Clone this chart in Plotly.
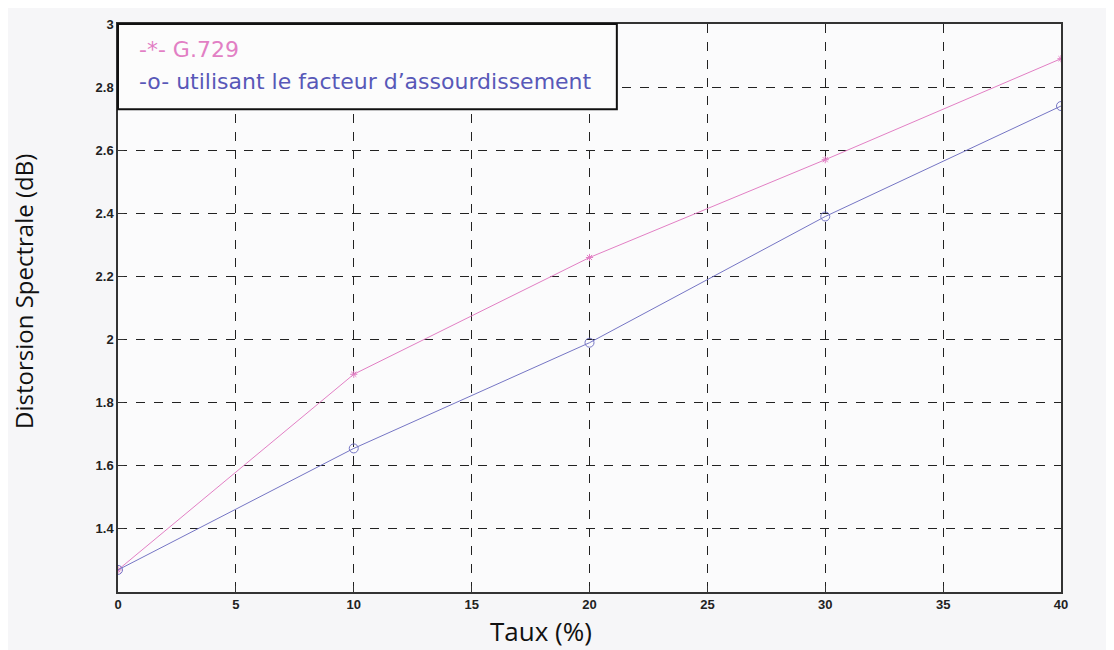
import plotly.graph_objects as go

taux = [0, 10, 20, 30, 40]
g729 = [1.27, 1.89, 2.26, 2.57, 2.89]
assourd = [1.27, 1.655, 1.99, 2.39, 2.74]

x_ticks = [0, 5, 10, 15, 20, 25, 30, 35, 40]
y_ticks = [1.4, 1.6, 1.8, 2, 2.2, 2.4, 2.6, 2.8, 3]
y_tick_labels = ["1.4", "1.6", "1.8", "2", "2.2", "2.4", "2.6", "2.8", "3"]

legend_g729 = "-*- G.729"
legend_assourd = "-o- utilisant le facteur d\u2019assourdissement"
x_title = "Taux (%)"
y_title = "Distorsion Spectrale (dB)"

pink = "#e27fc4"
blue = "#7575c4"

fig = go.Figure()
fig.add_trace(go.Scatter(
    x=taux, y=g729, mode="lines+markers", name=legend_g729,
    line=dict(color=pink, width=1),
    marker=dict(symbol="asterisk-open", size=6, color=pink, line=dict(color=pink, width=1)),
))
fig.add_trace(go.Scatter(
    x=taux, y=assourd, mode="lines+markers", name=legend_assourd,
    line=dict(color=blue, width=1),
    marker=dict(symbol="circle-open", size=9, color=blue, line=dict(color=blue, width=1)),
))

axis_common = dict(
    showline=True, linecolor="#333333", linewidth=1.5, mirror=True,
    showgrid=True, gridcolor="#222222", griddash="dash", gridwidth=1,
    ticks="inside", ticklen=6, tickcolor="#333333",
    zeroline=False,
    tickfont=dict(family="Liberation Sans", size=13, color="#222222", weight="bold"),
)

fig.update_xaxes(range=[0, 40], tickvals=x_ticks, **axis_common)
fig.update_yaxes(range=[1.2, 3], tickvals=y_ticks, ticktext=y_tick_labels, **axis_common)

# axis titles
fig.add_annotation(xref="paper", yref="paper", x=0.4486, y=-0.0695, xanchor="center", yanchor="middle",
                   text=x_title, showarrow=False,
                   font=dict(family="Open Sans", size=26, color="#111111"))
fig.add_annotation(xref="paper", yref="paper", x=-0.0997, y=0.53, xanchor="center", yanchor="middle",
                   text=y_title, showarrow=False, textangle=-90,
                   font=dict(family="Open Sans", size=24, color="#111111"))

# legend box (MATLAB style text legend)
fig.add_shape(type="rect", xref="paper", yref="paper",
              x0=0, x1=0.529, y0=0.850, y1=1.0,
              line=dict(color="#111111", width=2), fillcolor="rgba(252,252,252,1)", layer="above")
fig.add_annotation(xref="paper", yref="paper", x=0.020, y=0.955, xanchor="left", yanchor="middle",
                   text=legend_g729, showarrow=False,
                   font=dict(family="DejaVu Sans", size=22, color=pink))
fig.add_annotation(xref="paper", yref="paper", x=0.020, y=0.899, xanchor="left", yanchor="middle",
                   text=legend_assourd, showarrow=False,
                   font=dict(family="DejaVu Sans", size=22, color="#5858b8"))

fig.update_layout(
    width=1106, height=642,
    margin=dict(l=110, r=53, t=9, b=58),
    paper_bgcolor="#f6f6f8", plot_bgcolor="#fbfbfc",
    showlegend=False,
)

fig.write_html("out.html")
